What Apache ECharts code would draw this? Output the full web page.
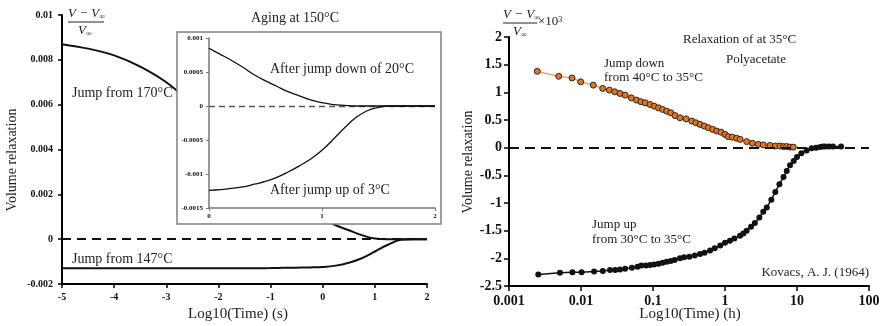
<!DOCTYPE html>
<html>
<head>
<meta charset="utf-8">
<script src="https://cdn.jsdelivr.net/npm/echarts@6/dist/echarts.min.js"></script>
<style>
  html, body { margin: 0; padding: 0; background: #fff; }
  #chart { width: 884px; height: 326px; }
</style>
</head>
<body>
<div id="chart"></div>
<script>
// left panel: log10(time) in s
const mainTime = [-5, -4.5, -4, -3.5, -3, -2.5, -2, -1.5, -1, -0.75, -0.5, -0.25, 0, 0.25, 0.5, 0.75, 1, 1.25, 1.5, 1.75, 2]
const jumpFrom170 = [0.0087, 0.0085, 0.0082, 0.0077, 0.0070, 0.0060, 0.0048, 0.0036, 0.0025, 0.0020, 0.0016, 0.0012, 0.0009, 0.00062, 0.0004, 0.00018, 0.00003, 0, 0, 0, 0]
const jumpFrom147 = [-0.0013, -0.0013, -0.0013, -0.0013, -0.0013, -0.0013, -0.0013, -0.0013, -0.00129, -0.00128, -0.00127, -0.00126, -0.00124, -0.00118, -0.00105, -0.00085, -0.00055, -0.00025, -0.00003, 0, 0]

// inset: aging at 150 C
const insetTime = [0, 0.1, 0.2, 0.3, 0.4, 0.5, 0.6, 0.7, 0.8, 0.9, 1.0, 1.1, 1.2, 1.3, 1.4, 1.5, 1.6, 1.7, 1.8, 1.9, 2.0]
const afterJumpDown = [0.00085, 0.00076, 0.00067, 0.00057, 0.00046, 0.00037, 0.00029, 0.00021, 0.00015, 0.00009, 0.00005, 0.00002, 0.00001, 0, 0, 0, 0, 0, 0, 0, 0]
const afterJumpUp = [-0.00124, -0.00123, -0.00121, -0.00119, -0.00115, -0.00111, -0.00105, -0.00097, -0.00088, -0.00078, -0.00065, -0.00049, -0.00032, -0.00017, -0.00007, -0.00002, 0, 0, 0, 0, 0]

// right panel: Kovacs (1964), time in h
const downTime = [0.00247, 0.0049, 0.0075, 0.0099, 0.0148, 0.020, 0.0248, 0.0294, 0.0348, 0.041, 0.050, 0.059, 0.068, 0.078, 0.091, 0.104, 0.119, 0.136, 0.155, 0.176, 0.202, 0.237, 0.288, 0.346, 0.394, 0.451, 0.515, 0.588, 0.676, 0.77, 0.88, 1.0, 1.11, 1.26, 1.45, 1.62, 2.0, 2.4, 2.9, 3.4, 4.2, 5.0, 5.8, 6.5, 7.2, 8.0, 8.9]
const downValue = [1.38, 1.29, 1.26, 1.19, 1.13, 1.07, 1.04, 1.01, 0.98, 0.95, 0.90, 0.86, 0.83, 0.81, 0.78, 0.75, 0.72, 0.69, 0.66, 0.63, 0.58, 0.54, 0.52, 0.48, 0.45, 0.42, 0.39, 0.36, 0.33, 0.30, 0.28, 0.24, 0.20, 0.19, 0.17, 0.15, 0.11, 0.08, 0.06, 0.05, 0.04, 0.03, 0.03, 0.02, 0.02, 0.01, 0.01]
const upTime = [0.00255, 0.0051, 0.0076, 0.0102, 0.0152, 0.0201, 0.0253, 0.0299, 0.0348, 0.041, 0.051, 0.061, 0.0688, 0.080, 0.091, 0.104, 0.119, 0.136, 0.155, 0.176, 0.2, 0.237, 0.27, 0.32, 0.38, 0.45, 0.52, 0.62, 0.72, 0.86, 1.0, 1.17, 1.35, 1.62, 1.8, 2.0, 2.3, 2.6, 3.0, 3.4, 3.8, 4.4, 5.0, 5.7, 6.5, 7.2, 8.0, 9.0, 10, 11.5, 13.6, 16, 18.5, 21, 23, 25, 28, 31.6, 41]
const upValue = [-2.29, -2.26, -2.25, -2.25, -2.24, -2.23, -2.21, -2.21, -2.20, -2.19, -2.17, -2.15, -2.13, -2.13, -2.12, -2.11, -2.10, -2.08, -2.06, -2.05, -2.03, -2.00, -1.98, -1.97, -1.95, -1.92, -1.90, -1.86, -1.82, -1.77, -1.72, -1.68, -1.64, -1.59, -1.55, -1.50, -1.43, -1.36, -1.26, -1.16, -1.08, -0.94, -0.80, -0.66, -0.53, -0.42, -0.32, -0.24, -0.17, -0.10, -0.05, -0.01, 0.0, 0.01, 0.02, 0.02, 0.02, 0.02, 0.02]

const logTickLabels = ["0.001", "0.01", "0.1", "1", "10", "100"]

const FONT = "Liberation Serif"
const zip = (xs, ys) => xs.map((x, i) => [x, ys[i]])

const chart = echarts.init(document.getElementById("chart"), null, { renderer: "canvas" })

const axisBlack = { onZero: false, lineStyle: { color: "#000", width: 2 } }
const tickBlack = { show: true, length: 4, lineStyle: { color: "#000", width: 1.5 } }
const dashedZero = (color, width, dash) => ({
  silent: true,
  symbol: "none",
  label: { show: false },
  lineStyle: { color: color, width: width, type: dash },
  data: [{ yAxis: 0 }],
})

const txt = (x, y, text, size, extra) => ({
  type: "text",
  x: x,
  y: y,
  z: 30,
  style: Object.assign({ text: text, font: size + "px " + FONT, fill: "#222", verticalAlign: "middle" }, extra || {}),
})

const fracRich = {
  v: { font: "italic 13px " + FONT, fill: "#222" },
  s: { font: "italic 8px " + FONT, fill: "#222", verticalAlign: "bottom" },
}
const frac = (x, y, w) => [
  { type: "text", x: x, y: y + 8, z: 30, style: { text: "{v|V − V}{s|∞}", verticalAlign: "middle", rich: fracRich } },
  { type: "line", z: 30, shape: { x1: x, y1: y + 16, x2: x + w, y2: y + 16 }, style: { stroke: "#222", lineWidth: 1 } },
  { type: "text", x: x + 10, y: y + 25, z: 30, style: { text: "{v|V}{s|∞}", verticalAlign: "middle", rich: fracRich } },
]

const option = {
  animation: false,
  backgroundColor: "#fff",
  grid: [
    { left: 62, top: 15, width: 365, height: 269 },
    { left: 209, top: 38, width: 226, height: 170 },
    { left: 509, top: 37, width: 360, height: 249 },
  ],
  xAxis: [
    {
      gridIndex: 0, type: "value", min: -5, max: 2, interval: 1,
      axisLine: axisBlack, axisTick: tickBlack, splitLine: { show: false },
      axisLabel: { color: "#111", fontFamily: FONT, fontWeight: "bold", fontSize: 10, margin: 8 },
    },
    {
      gridIndex: 1, type: "value", min: 0, max: 2, interval: 1, z: 10,
      axisLine: { onZero: false, lineStyle: { color: "#777", width: 1.5 } },
      axisTick: { show: true, length: 3, lineStyle: { color: "#777" } },
      splitLine: { show: false },
      axisLabel: { color: "#111", fontFamily: FONT, fontWeight: "bold", fontSize: 7, margin: 5 },
    },
    {
      gridIndex: 2, type: "log", logBase: 10, min: 0.001, max: 100,
      axisLine: axisBlack, axisTick: { show: true, length: 5, lineStyle: { color: "#000", width: 1.5 } },
      minorTick: { show: false }, splitLine: { show: false },
      axisLabel: {
        color: "#111", fontFamily: FONT, fontWeight: "bold", fontSize: 14, margin: 8,
        formatter: (v) => logTickLabels[Math.round(Math.log10(v)) + 3],
      },
    },
  ],
  yAxis: [
    {
      gridIndex: 0, type: "value", min: -0.002, max: 0.01, interval: 0.002,
      axisLine: axisBlack, axisTick: tickBlack, splitLine: { show: false },
      axisLabel: { color: "#111", fontFamily: FONT, fontWeight: "bold", fontSize: 10, margin: 9 },
    },
    {
      gridIndex: 1, type: "value", min: -0.0015, max: 0.001, interval: 0.0005, z: 10,
      axisLine: { show: true, onZero: false, lineStyle: { color: "#777", width: 1.5 } },
      axisTick: { show: true, length: 3, lineStyle: { color: "#777" } },
      splitLine: { show: false },
      axisLabel: { color: "#111", fontFamily: FONT, fontWeight: "bold", fontSize: 7, margin: 6 },
    },
    {
      gridIndex: 2, type: "value", min: -2.5, max: 2, interval: 0.5,
      axisLine: axisBlack, axisTick: { show: true, length: 5, lineStyle: { color: "#000", width: 1.5 } },
      splitLine: { show: false },
      axisLabel: { color: "#111", fontFamily: FONT, fontWeight: "bold", fontSize: 14, margin: 7 },
    },
  ],
  series: [
    {
      name: "Jump from 170°C", type: "line", xAxisIndex: 0, yAxisIndex: 0, z: 2,
      data: zip(mainTime, jumpFrom170), smooth: 0.4, symbol: "none",
      lineStyle: { color: "#111", width: 2 },
      markLine: dashedZero("#111", 1.8, [9, 6]),
    },
    {
      name: "Jump from 147°C", type: "line", xAxisIndex: 0, yAxisIndex: 0, z: 2,
      data: zip(mainTime, jumpFrom147), smooth: 0.4, symbol: "none",
      lineStyle: { color: "#111", width: 2 },
    },
    {
      name: "After jump down of 20°C", type: "line", xAxisIndex: 1, yAxisIndex: 1, z: 12,
      data: zip(insetTime, afterJumpDown), smooth: 0.4, symbol: "none",
      lineStyle: { color: "#111", width: 1.3 },
      markLine: dashedZero("#555", 1.3, [6, 4]),
    },
    {
      name: "After jump up of 3°C", type: "line", xAxisIndex: 1, yAxisIndex: 1, z: 12,
      data: zip(insetTime, afterJumpUp), smooth: 0.4, symbol: "none",
      lineStyle: { color: "#111", width: 1.3 },
    },
    {
      name: "Jump down from 40°C to 35°C", type: "line", xAxisIndex: 2, yAxisIndex: 2,
      data: zip(downTime, downValue), symbol: "circle", symbolSize: 6,
      itemStyle: { color: "#d8782f", borderColor: "#3d220e", borderWidth: 1 },
      lineStyle: { color: "#e8975e", width: 1.3 },
      markLine: dashedZero("#111", 1.8, [10, 6]),
    },
    {
      name: "Jump up from 30°C to 35°C", type: "line", xAxisIndex: 2, yAxisIndex: 2,
      data: zip(upTime, upValue), symbol: "circle", symbolSize: 6,
      itemStyle: { color: "#111", borderColor: "#111", borderWidth: 0 },
      lineStyle: { color: "#111", width: 1.5 },
    },
  ],
  graphic: [
    // inset box over the main curves
    { type: "rect", z: 5, shape: { x: 177, y: 32, width: 264, height: 192 }, style: { fill: "#fff", stroke: "#808080", lineWidth: 1.5 } },
    txt(295, 18, "Aging at 150°C", 14, { align: "center" }),
    txt(72, 93, "Jump from 170°C", 14),
    txt(72, 259, "Jump from 147°C", 14),
    txt(270, 69, "After jump down of 20°C", 14),
    txt(270, 190, "After jump up of 3°C", 14),
    Object.assign(txt(12, 160, "Volume relaxation", 14, { align: "center" }), { rotation: Math.PI / 2 }),
    txt(238, 314, "Log10(Time) (s)", 15, { align: "center" }),
    ...frac(68, 6, 36),
    txt(683, 40, "Relaxation of at 35°C", 13),
    txt(726, 60, "Polyacetate", 13),
    txt(604, 64, "Jump down", 13),
    txt(604, 78, "from 40°C to 35°C", 13),
    txt(592, 225, "Jump up", 13),
    txt(592, 240, "from 30°C to 35°C", 13),
    txt(869, 273, "Kovacs, A. J. (1964)", 13, { align: "right" }),
    Object.assign(txt(468, 162, "Volume relaxation", 14, { align: "center" }), { rotation: Math.PI / 2 }),
    txt(690, 314, "Log10(Time) (h)", 15, { align: "center" }),
    ...frac(503, 7, 34),
    {
      type: "text", x: 538, y: 22, z: 30,
      style: {
        text: "{a|×10}{b|3}", verticalAlign: "middle",
        rich: { a: { font: "13px " + FONT, fill: "#222" }, b: { font: "8px " + FONT, fill: "#222", verticalAlign: "top" } },
      },
    },
  ],
}

chart.setOption(option)
</script>
</body>
</html>
